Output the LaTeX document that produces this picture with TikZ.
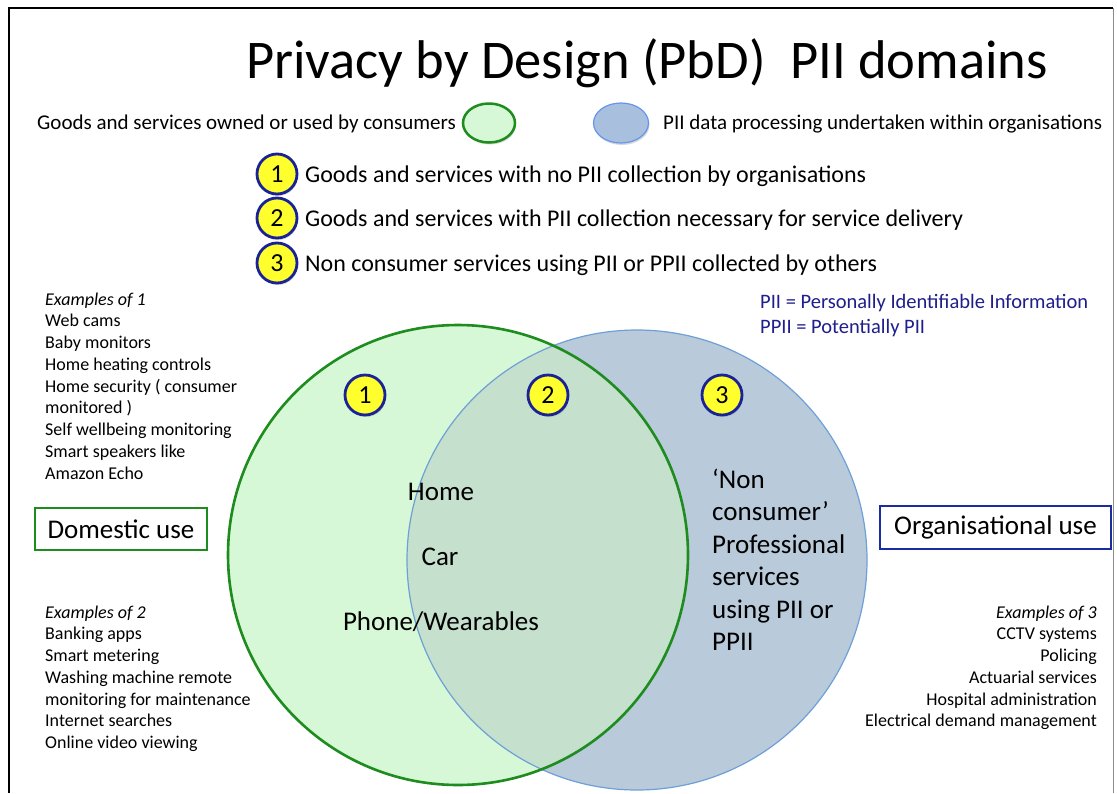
\documentclass[tikz,border=0pt]{standalone}
\usepackage{fontspec}
\setmainfont{Carlito}
\usetikzlibrary{shapes.geometric,shadows}
\definecolor{gfill}{RGB}{214,248,214}
\definecolor{bfill}{RGB}{185,202,218}
\definecolor{ofill}{RGB}{197,224,205}
\definecolor{gline}{RGB}{30,140,30}
\definecolor{bline}{RGB}{110,160,215}
\definecolor{numblue}{RGB}{25,35,150}
\definecolor{numyellow}{RGB}{255,255,45}
\definecolor{piiblue}{RGB}{30,30,140}
\definecolor{orgblue}{RGB}{25,45,160}
\definecolor{legblue}{RGB}{168,192,222}
\definecolor{leglineblue}{RGB}{100,150,235}
\begin{document}
\begin{tikzpicture}[x=1pt,y=-1pt,
  txt/.style={inner sep=0pt, anchor=base west},
  exfont/.style={font=\fontsize{18}{20}\selectfont},
  numc/.style={circle, draw=numblue, line width=2.8pt, fill=numyellow,
    minimum size=40pt, inner sep=0pt, font=\fontsize{26}{26}\selectfont,
    drop shadow={opacity=0.3, shadow xshift=1pt, shadow yshift=-2pt}},
  usebox/.style={draw, line width=2.5pt, fill=white, inner sep=0pt,
    font=\fontsize{27}{27}\selectfont},
  bigtxt/.style={inner sep=0pt, font=\fontsize{27}{27}\selectfont}]
\useasboundingbox (0,0) rectangle (1117,793);
\fill[white] (0,0) rectangle (1117,793);

% Venn diagram
\begin{scope}
\clip (0,0) rectangle (1117,793);
\fill[gfill] (458,555) circle[radius=230pt];
\fill[bfill] (637,560) circle[radius=230pt];
\begin{scope}
\clip (458,555) circle[radius=230pt];
\fill[ofill] (637,560) circle[radius=230pt];
\end{scope}
\draw[bline, line width=1.2pt] (637,560) circle[radius=230pt];
\draw[gline, line width=2.6pt] (458,555) circle[radius=230pt];
\end{scope}

% frame
\draw[black, line width=2.5pt] (9,793) -- (9,8) -- (1113,8);
\draw[black!45, line width=1pt] (1113,8) -- (1113,793);

% title
\node[txt, font=\fontsize{54.5}{54}\selectfont] (title) at (246,78) {Privacy by Design (PbD)\ \ PII domains};

% legend
\node[txt, font=\fontsize{21}{21}\selectfont] (leg1) at (37,129) {Goods and services owned or used by consumers};
\node[ellipse, draw=gline, line width=2.5pt, fill=gfill, minimum width=52pt, minimum height=39pt,
  drop shadow={opacity=0.3, shadow xshift=1pt, shadow yshift=-2pt}] (legc1) at (489,123) {};
\node[ellipse, draw=leglineblue, line width=1.2pt, fill=legblue, minimum width=55pt, minimum height=40pt,
  drop shadow={opacity=0.3, shadow xshift=1pt, shadow yshift=-2pt}] (legc2) at (621,123) {};
\node[txt, font=\fontsize{21}{21}\selectfont] (leg2) at (663,129) {PII data processing undertaken within organisations};

% numbered items
\node[numc] (n1) at (277,174) {1};
\node[numc] (n2) at (277,218) {2};
\node[numc] (n3) at (277,263) {3};
\node[txt, font=\fontsize{24}{24}\selectfont] (t1) at (305,182) {Goods and services with no PII collection by organisations};
\node[txt, font=\fontsize{24}{24}\selectfont] (t2) at (305,226) {Goods and services with PII collection necessary for service delivery};
\node[txt, font=\fontsize{24}{24}\selectfont] (t3) at (305,271) {Non consumer services using PII or PPII collected by others};

% definitions
\node[txt, text=piiblue, font=\fontsize{20.5}{20}\selectfont] (def1) at (760,308) {PII = Personally Identifiable Information};
\node[txt, text=piiblue, font=\fontsize{20.5}{20}\selectfont] (def2) at (760,333) {PPII = Potentially PII};

% examples of 1
\node[txt, exfont] (ex1h) at (45,305) {\itshape Examples of 1};
\foreach \t [count=\i] in {{Web cams},{Baby monitors},{Home heating controls},{Home security ( consumer},{monitored )},{Self wellbeing monitoring},{Smart speakers like},{Amazon Echo}}
  \node[txt, exfont] (exa\i) at (45,{305+\i*21.75}) {\t};

% examples of 2
\node[txt, exfont] (ex2h) at (45,618) {\itshape Examples of 2};
\foreach \t [count=\i] in {{Banking apps},{Smart metering},{Washing machine remote},{monitoring for maintenance},{Internet searches},{Online video viewing}}
  \node[txt, exfont] (exb\i) at (45,{618+\i*21.75}) {\t};

% examples of 3
\node[inner sep=0pt, anchor=base east, exfont] (ex3h) at (1097,618) {\itshape Examples of 3};
\foreach \t [count=\i] in {{CCTV systems},{Policing},{Actuarial services},{Hospital administration},{Electrical demand management}}
  \node[inner sep=0pt, anchor=base east, exfont] (exc\i) at (1097,{618+\i*21.75}) {\t};

% use boxes
\node[usebox, draw=gline, minimum width=172pt, minimum height=42pt] (dom) at (121,529) {Domestic use};
\node[usebox, draw=orgblue, minimum width=231pt, minimum height=43pt] (org) at (995.5,527.5) {Organisational use};

% numbers in the Venn
\node[numc] (v1) at (365,395) {1};
\node[numc] (v2) at (548,395) {2};
\node[numc] (v3) at (722,395) {3};

% centre texts
\node[bigtxt, anchor=base] (home) at (441,500) {Home};
\node[bigtxt, anchor=base] (car) at (440,565) {Car};
\node[bigtxt, anchor=base] (phone) at (441,630) {Phone/Wearables};

% right texts
\foreach \t [count=\i] in {{‘Non},{consumer’},{Professional},{services},{using PII or},{PPII}}
  \node[bigtxt, anchor=base west] (pro\i) at (712,{488+(\i-1)*32.5}) {\t};
\end{tikzpicture}
\end{document}
